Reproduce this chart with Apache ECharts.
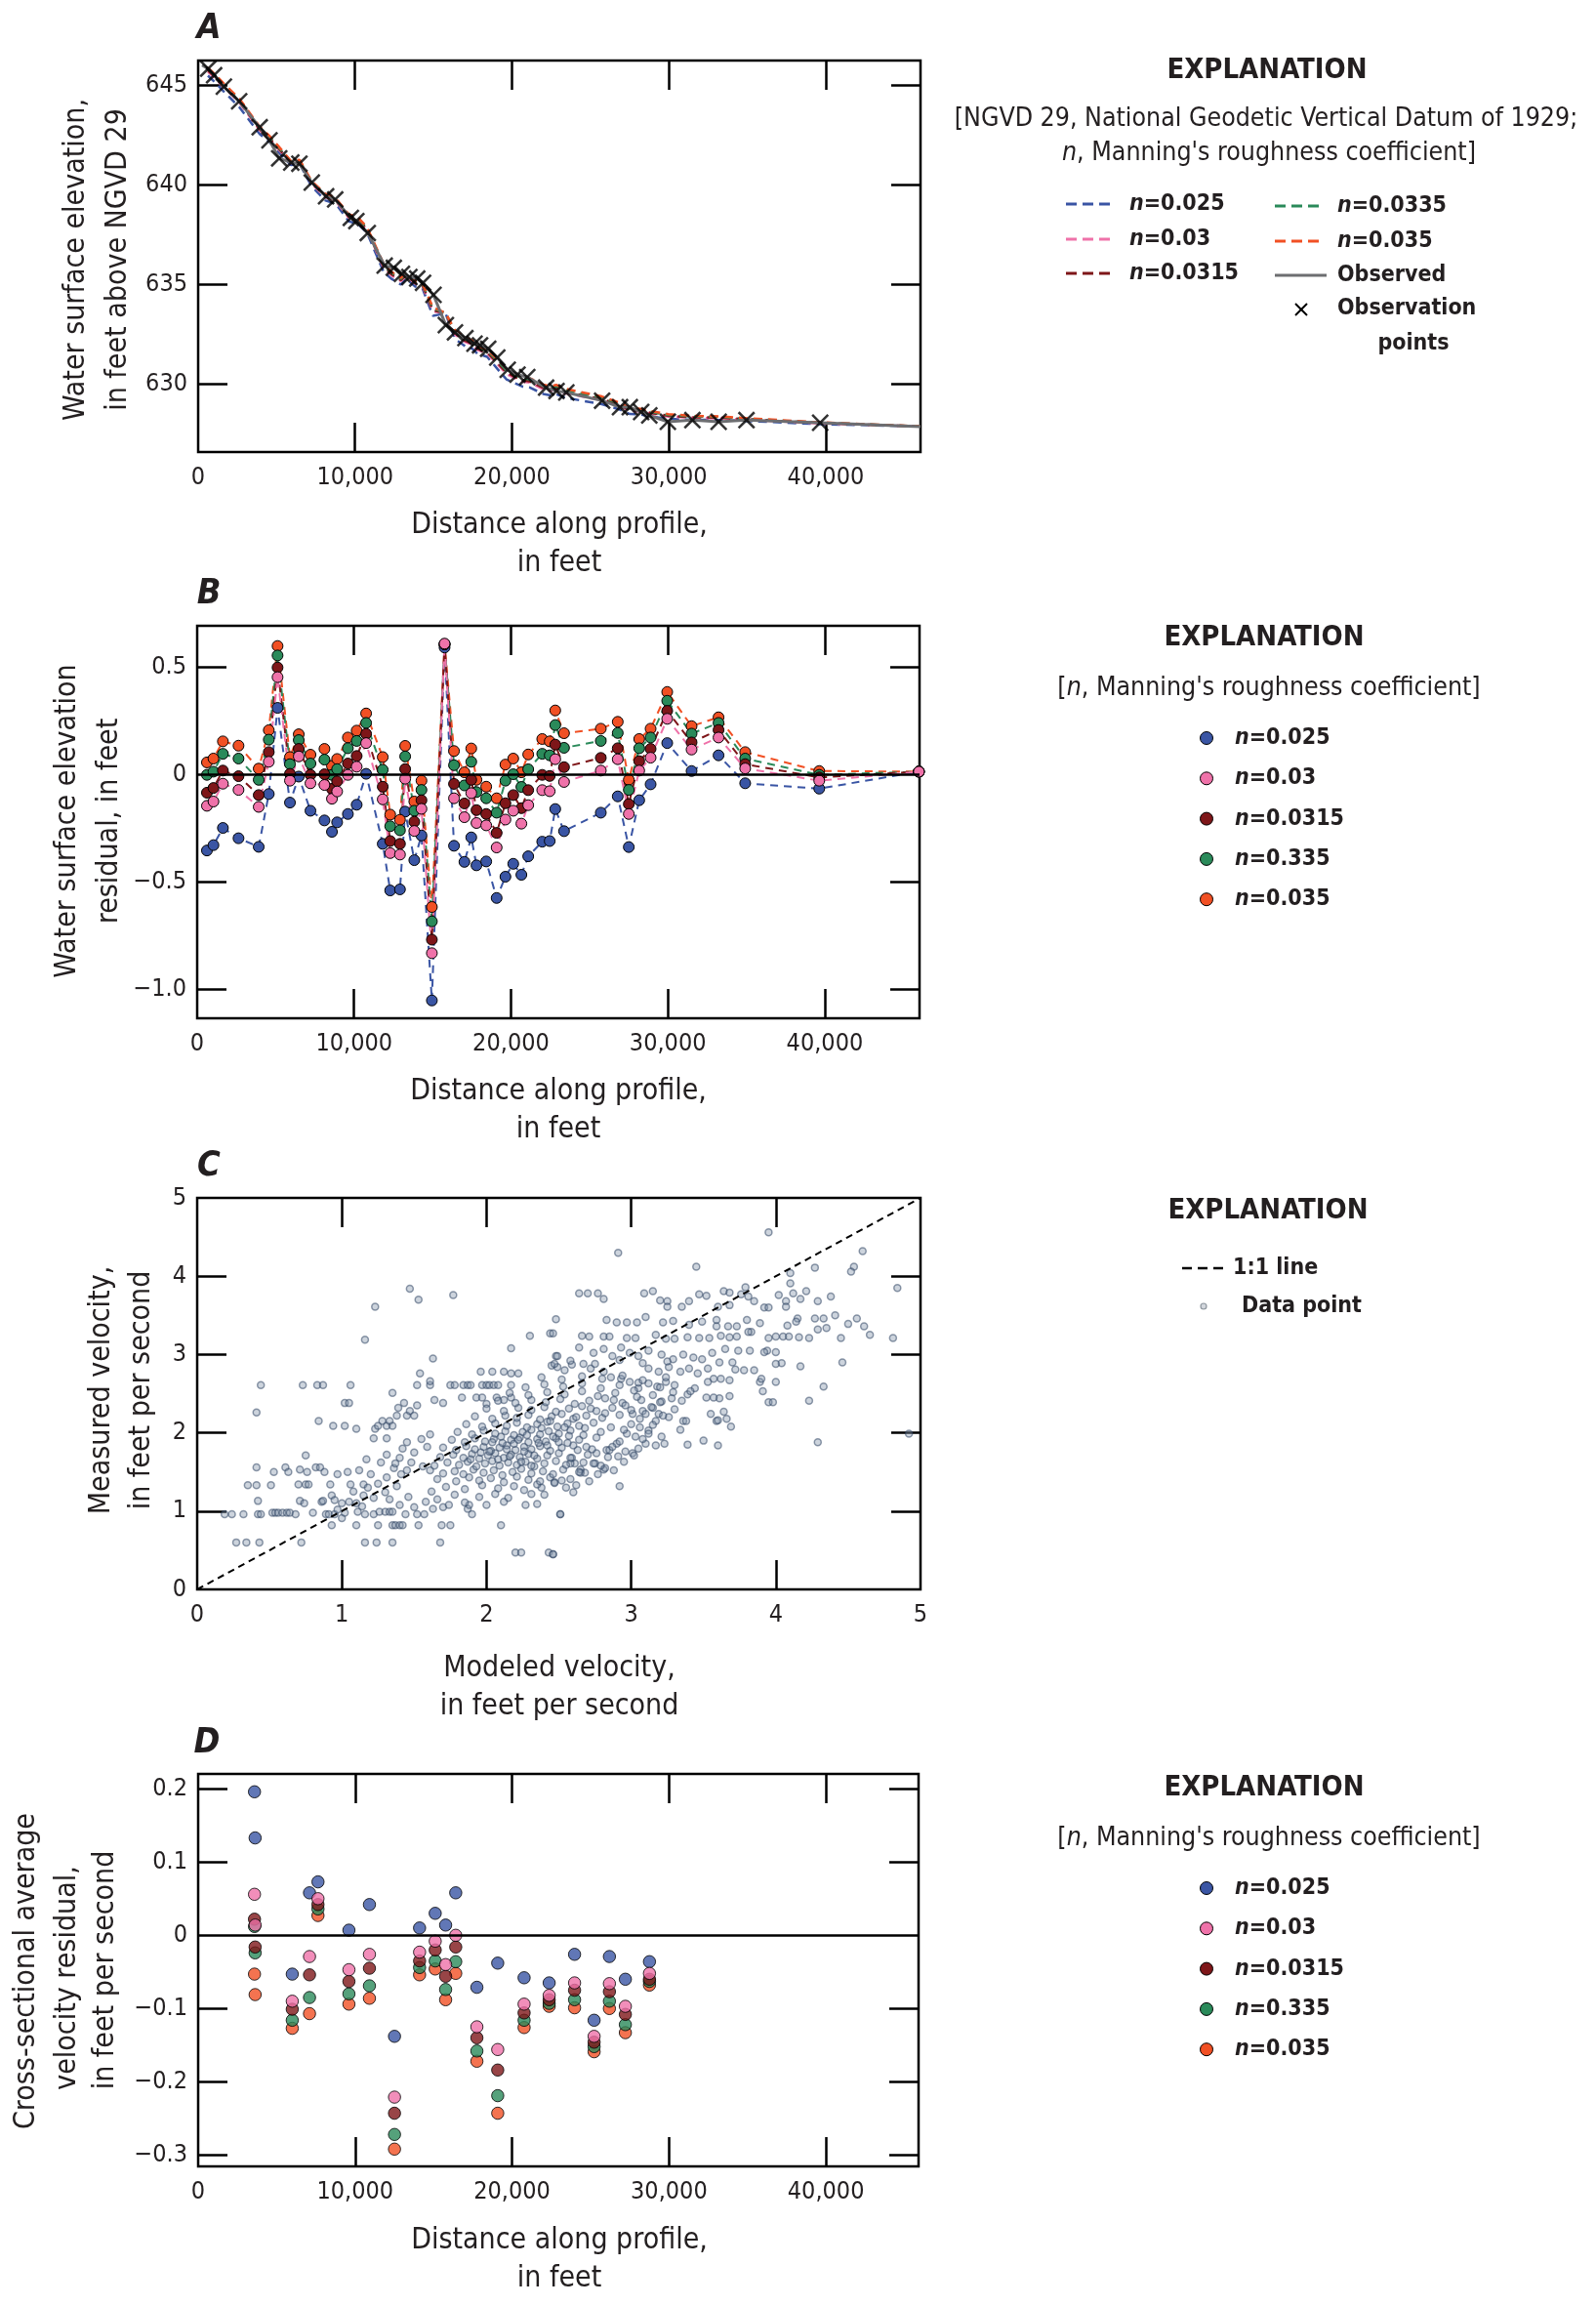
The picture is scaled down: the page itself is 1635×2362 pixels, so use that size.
<!DOCTYPE html>
<html>
<head>
<meta charset="utf-8">
<script src="https://cdn.jsdelivr.net/npm/echarts@6.0.0/dist/echarts.min.js"></script>
<style>
html, body { margin: 0; padding: 0; background: #fff; }
#chart { width: 1635px; height: 2362px; }
</style>
</head>
<body>
<div id="chart"></div>
<script>
// ---- panel A : observed water surface profile
var obsDist = [643,1017,1639,2614,3921,4544,5166,5934,6452,7241,8154,8734,9730,10083,10809,11888,12469,12988,13465,13963,14336,15000,15788,16369,17033,17614,17967,18485,19066,19730,20353,20975,22178,22842,23465,25747,26888,27510,28237,28755,29937,31503,33173,34948,39645];
var obsElev = [645.82,645.49,644.92,644.18,642.88,642.22,641.32,641.11,641.05,640.10,639.41,639.25,638.33,638.17,637.57,635.93,635.82,635.52,635.36,635.28,635.07,634.46,632.94,632.58,632.29,632.01,631.93,631.76,631.31,630.70,630.46,630.33,629.80,629.64,629.56,629.15,628.82,628.82,628.58,628.41,628.09,628.17,628.09,628.17,628.04];
// observed line (obs points plus the two ends of the profile)
var observedDist = [250,643,1017,1639,2614,3921,4544,5166,5934,6452,7241,8154,8734,9730,10083,10809,11888,12469,12988,13465,13963,14336,15000,15788,16369,17033,17614,17967,18485,19066,19730,20353,20975,22178,22842,23465,25747,26888,27510,28237,28755,29937,31503,33173,34948,39645,46040];
var observedElev = [646.00,645.82,645.49,644.92,644.18,642.88,642.22,641.32,641.11,641.05,640.10,639.41,639.25,638.33,638.17,637.57,635.93,635.82,635.52,635.36,635.28,635.07,634.46,632.94,632.58,632.29,632.01,631.93,631.76,631.31,630.70,630.46,630.33,629.80,629.64,629.56,629.15,628.82,628.82,628.58,628.41,628.09,628.17,628.09,628.17,628.04,627.85];

// modeled profiles, at the residual stations
var resDist = [622,1037,1639,2635,3921,4564,5124,5913,6473,7220,8112,8589,8921,9606,10166,10768,11826,12303,12925,13257,13838,14295,14959,15768,16369,17033,17469,17801,18423,19087,19647,20145,20664,21100,21992,22469,22822,23382,25726,26805,27510,28174,28900,29959,31511,33230,34928,39648,46000];
var elev025 = [645.47,645.16,644.67,643.88,642.54,642.13,641.63,640.98,641.04,639.93,639.20,639.08,638.88,638.15,638.03,637.57,635.61,635.28,634.98,635.28,634.88,634.79,633.41,633.53,632.25,631.88,631.76,631.51,631.35,630.73,630.22,630.04,629.86,629.82,629.49,629.41,629.48,629.30,628.97,628.72,628.48,628.46,628.36,628.24,628.19,628.18,628.13,627.97,627.86];
var elev030 = [645.67,645.36,644.88,644.11,642.73,642.28,641.77,641.08,641.13,640.06,639.36,639.24,639.02,638.33,638.21,637.72,635.81,635.45,635.15,635.43,635.02,634.91,633.63,633.55,632.47,632.09,631.96,631.70,631.52,630.97,630.49,630.29,630.10,630.06,629.73,629.64,629.71,629.52,629.17,628.89,628.64,628.60,628.49,628.35,628.29,628.26,628.20,628.01,627.86];
var elev0315 = [645.73,645.43,644.94,644.17,642.78,642.32,641.82,641.11,641.17,640.10,639.41,639.28,639.07,638.38,638.26,637.76,635.87,635.51,635.20,635.47,635.06,634.95,633.69,633.55,632.54,632.15,632.02,631.76,631.58,631.04,630.57,630.36,630.17,630.13,629.80,629.71,629.78,629.59,629.23,628.94,628.68,628.64,628.53,628.39,628.32,628.30,628.22,628.03,627.86];
var elev0335 = [645.82,645.50,645.02,644.25,642.85,642.38,641.87,641.16,641.21,640.15,639.48,639.35,639.12,638.45,638.33,637.81,635.95,635.58,635.26,635.53,635.11,635.00,633.78,633.55,632.62,632.24,632.11,631.85,631.65,631.13,630.67,630.46,630.27,630.22,629.90,629.81,629.87,629.68,629.31,629.01,628.75,628.70,628.58,628.43,628.36,628.33,628.24,628.04,627.86];
var elev035 = [645.88,645.56,645.07,644.31,642.91,642.43,641.92,641.19,641.24,640.19,639.53,639.39,639.17,638.50,638.37,637.85,636.01,635.63,635.31,635.58,635.15,635.04,633.84,633.55,632.69,632.30,632.17,631.90,631.70,631.20,630.75,630.53,630.34,630.29,629.96,629.87,629.94,629.75,629.36,629.06,628.79,628.74,628.62,628.47,628.39,628.36,628.27,628.06,627.86];

// ---- panel B : water surface residuals
var res025 = [-0.355,-0.330,-0.250,-0.298,-0.338,-0.092,0.309,-0.132,-0.011,-0.170,-0.215,-0.268,-0.224,-0.185,-0.142,0.002,-0.324,-0.541,-0.536,-0.174,-0.400,-0.285,-1.053,0.590,-0.333,-0.408,-0.294,-0.424,-0.406,-0.576,-0.477,-0.417,-0.468,-0.382,-0.314,-0.311,-0.162,-0.265,-0.179,-0.103,-0.339,-0.121,-0.047,0.145,0.015,0.088,-0.042,-0.067,0.012];
var res030 = [-0.147,-0.127,-0.044,-0.073,-0.152,0.058,0.452,-0.030,0.083,-0.042,-0.050,-0.114,-0.080,-0.003,0.035,0.145,-0.117,-0.367,-0.374,-0.021,-0.264,-0.161,-0.833,0.608,-0.112,-0.200,-0.088,-0.227,-0.238,-0.341,-0.211,-0.170,-0.230,-0.144,-0.074,-0.079,0.070,-0.036,0.017,0.070,-0.185,0.017,0.077,0.258,0.115,0.171,0.027,-0.030,0.012];
var res0315 = [-0.086,-0.064,0.017,-0.009,-0.097,0.103,0.497,0.002,0.118,-0.003,0.000,-0.068,-0.033,0.050,0.085,0.188,-0.058,-0.311,-0.324,0.024,-0.221,-0.121,-0.770,0.605,-0.045,-0.136,-0.026,-0.167,-0.185,-0.273,-0.135,-0.097,-0.158,-0.074,-0.003,-0.008,0.138,0.033,0.076,0.121,-0.139,0.061,0.118,0.295,0.148,0.206,0.047,-0.015,0.012];
var res0335 = [-0.003,0.012,0.095,0.073,-0.026,0.161,0.553,0.047,0.159,0.050,0.068,-0.003,0.024,0.121,0.155,0.239,0.021,-0.242,-0.261,0.083,-0.170,-0.073,-0.685,0.605,0.042,-0.052,0.058,-0.083,-0.112,-0.179,-0.030,0.000,-0.059,0.023,0.095,0.088,0.229,0.123,0.155,0.192,-0.073,0.121,0.171,0.342,0.189,0.239,0.073,-0.003,0.012];
var res035 = [0.055,0.073,0.153,0.133,0.026,0.205,0.597,0.080,0.186,0.091,0.118,0.039,0.071,0.171,0.203,0.283,0.080,-0.188,-0.212,0.132,-0.127,-0.030,-0.618,0.605,0.108,0.009,0.120,-0.026,-0.058,-0.112,0.045,0.073,0.009,0.092,0.164,0.153,0.297,0.191,0.212,0.244,-0.026,0.164,0.212,0.383,0.224,0.265,0.103,0.015,0.012];

// ---- panel C : modeled vs measured velocity [modeled, measured]
var velocityPoints = [
[1.47,3.84],[1.53,3.70],[1.77,3.76],[1.23,3.61],[1.16,3.19],[1.63,2.95],[2.17,3.08],[2.30,3.24],[2.44,3.27],[2.46,3.27],[2.48,3.45],[2.48,2.98],[2.45,2.86],[2.49,2.84],
[0.44,2.61],[0.73,2.61],[0.83,2.61],[0.87,2.61],[1.06,2.61],[1.52,2.61],[1.61,2.61],[1.75,2.61],[1.78,2.61],[1.84,2.61],[1.87,2.61],[1.89,2.61],[1.97,2.61],[2.00,2.61],[2.02,2.61],[2.05,2.61],[2.08,2.61],[2.17,2.61],
[1.54,2.76],[1.61,2.66],[1.96,2.78],[2.04,2.78],[2.12,2.78],[2.17,2.76],[2.22,2.76],
[1.35,2.51],[0.41,2.26],[1.02,2.38],[1.05,2.38],[1.43,2.38],[1.64,2.42],[1.70,2.38],[1.83,2.45],[1.93,2.45],[1.97,2.45],[2.00,2.37],[2.07,2.45],[2.12,2.42],[2.17,2.45],
[0.84,2.15],[0.94,2.09],[1.02,2.09],[1.10,2.05],[1.23,2.05],[1.25,2.09],[1.28,2.15],[1.31,2.09],[1.33,2.15],[1.35,2.09],[1.22,1.93],[1.31,1.93],[1.38,2.22],[1.39,2.32],[1.45,2.22],[1.47,2.28],[1.50,2.22],[1.52,2.35],
[0.75,1.71],[0.41,1.56],[0.53,1.50],[0.61,1.56],[0.63,1.50],[0.71,1.53],[0.76,1.50],[0.82,1.56],[0.85,1.56],[0.88,1.50],
[0.35,1.33],[0.41,1.33],[0.51,1.33],[0.70,1.34],[0.75,1.34],[0.77,1.34],[0.92,1.34],[1.06,1.34],[1.15,1.34],
[0.42,1.13],[0.71,1.13],[0.74,1.10],[0.86,1.12],[0.87,1.13],[0.93,1.20],[0.95,1.14],[1.00,1.10],[1.05,1.12],[1.10,1.10],[1.14,1.06],
[0.19,0.96],[0.24,0.96],[0.32,0.96],[0.42,0.96],[0.44,0.96],[0.52,0.98],[0.54,0.98],[0.56,0.98],[0.59,0.98],[0.62,0.98],[0.64,0.98],[0.68,0.96],[0.80,0.98],[0.89,0.96],[0.91,0.96],[0.95,0.96],[1.00,0.91],[1.11,0.99],[1.16,0.96],[1.22,0.96],[1.26,0.99],[1.30,0.99],[1.33,0.99],[1.35,0.99],
[0.93,0.82],[1.10,0.82],[1.25,0.82],[1.35,0.82],[1.37,0.82],[1.40,0.82],[1.42,0.82],[1.53,0.82],[1.69,0.82],[1.75,0.82],
[0.27,0.60],[0.34,0.60],[0.43,0.60],[0.72,0.60],[1.16,0.60],[1.24,0.60],[1.35,0.60],[1.68,0.60],
[2.10,0.82],[2.27,1.08],[2.20,0.47],[2.24,0.47],[2.43,0.47],[2.46,0.45],[2.51,0.96],[2.31,1.22],[2.38,1.30],[2.47,1.37],[1.90,0.96],[1.87,1.03],[1.88,1.08],[1.52,0.96],[1.57,0.96],[1.63,1.03],[1.70,1.05],[1.74,1.08],
[1.25,1.35],[1.31,1.43],[1.41,1.47],[1.45,1.52],[1.36,1.55],[1.20,1.47],[1.12,1.52],[1.04,1.50],[0.97,1.47],[1.27,1.62],[1.17,1.66],[1.31,1.72],[1.40,1.68],[1.50,1.75],[1.48,1.62],[1.56,1.57],[1.59,1.82],[1.55,1.92],[1.61,1.98],[1.45,1.88],[1.42,1.80],[1.37,1.61],[1.08,1.25],[1.15,1.20],[1.22,1.17],[1.30,1.24],[1.38,1.32],[1.33,1.15],[1.40,1.08],[1.46,1.18],[1.50,1.05],[1.18,1.30],[0.97,1.02],[1.02,0.98],[1.44,0.96],[1.58,1.12],[1.66,1.15],[1.62,1.25],
[3.95,4.56],[2.91,4.30],[3.45,4.12],[4.60,4.32],[4.54,4.12],[4.52,4.06],[4.27,4.11],[4.10,4.04],[4.84,3.85],[4.10,3.91],[4.12,3.78],[4.17,3.71],[4.21,3.81],[4.38,3.74],[4.29,3.68],[4.02,3.76],[4.07,3.68],[4.07,3.61],
[2.64,3.78],[2.70,3.78],[2.77,3.78],[2.81,3.71],[3.09,3.78],[3.15,3.81],[3.20,3.69],[3.25,3.68],[3.25,3.61],[3.35,3.61],[3.40,3.68],[3.47,3.77],[3.52,3.75],[3.64,3.81],[3.68,3.79],[3.76,3.77],[3.79,3.86],[3.81,3.74],[3.85,3.68],[3.68,3.63],[3.60,3.61],[3.59,3.44],[3.92,3.60],[3.95,3.60],
[4.41,3.50],[4.50,3.39],[4.56,3.46],[4.61,3.36],[4.65,3.25],[4.27,3.46],[4.33,3.46],[4.29,3.32],[4.35,3.34],[4.15,3.46],[4.14,3.42],[4.08,3.37],[4.23,3.21],[4.45,3.21],[4.81,3.21],[4.46,2.90],[4.17,2.85],[4.33,2.59],[4.23,2.41],[3.95,2.39],[3.98,2.39],[4.00,2.65],[4.00,3.03],[4.04,2.89],[4.00,2.88],[3.91,2.53],[3.89,2.65],[3.94,3.05],[3.92,3.03],[3.95,3.21],[4.00,3.23],[4.05,3.23],[4.09,3.23],[4.16,3.22],
[4.92,1.99],[4.29,1.88],[2.92,1.32],[2.51,0.96],[2.46,0.45],
[3.39,1.85],[3.50,1.90],[3.60,1.84],[3.69,2.08],[3.66,2.18],[3.59,2.15],[3.60,2.16],[3.55,2.24],[3.64,2.27],[3.34,2.04],[3.36,2.15],[3.38,2.15],[3.68,2.47],[3.61,2.44],[3.57,2.45],
[2.81,1.53],[2.75,1.61],[2.68,1.49],[2.65,1.53],[2.61,1.61],[2.59,1.68],
[2.83,3.44],[2.90,3.41],[2.97,3.41],[3.04,3.41],[3.10,3.48],[3.22,3.41],[3.29,3.43],[3.40,3.38],[3.49,3.42],[3.59,3.36],[3.67,3.36],[3.73,3.36],[3.80,3.44],[3.83,3.29],[3.89,3.40],
[2.66,3.24],[2.71,3.23],[2.81,3.23],[2.85,3.23],[2.97,3.21],[3.03,3.21],[3.17,3.25],[3.24,3.20],[3.30,3.20],[3.39,3.22],[3.47,3.21],[3.54,3.21],[3.62,3.24],[3.68,3.22],[3.73,3.23],[3.81,3.29],
[2.64,3.09],[2.74,3.02],[2.81,3.07],[2.87,2.98],[2.93,3.09],[2.99,3.02],[3.05,2.98],[3.12,3.05],[3.21,3.00],[3.29,2.94],[3.36,3.00],[3.43,2.96],[3.49,2.94],[3.56,3.02],[3.61,2.90],[3.65,3.07],[3.70,2.90],[3.74,3.05],[3.82,3.05],[3.72,2.81],[3.78,2.80],[3.85,2.80],[3.90,2.69],
[3.12,2.82],[3.19,2.78],[3.26,2.84],[3.34,2.78],[3.40,2.82],[3.46,2.76],[3.53,2.82],[3.57,2.69],[3.62,2.69],[3.68,2.67],[3.53,2.65],[3.44,2.57],[3.39,2.49],[3.52,2.45],[3.41,2.53],[3.30,2.61],[3.24,2.65],[3.18,2.59],[3.12,2.63],[3.05,2.57],[2.99,2.65],[2.93,2.69],[2.86,2.71],[2.81,2.78],[2.72,2.82],[2.67,2.88],[2.59,2.87],[2.54,2.80],[2.49,2.98],[2.47,2.88],
[3.28,2.44],[3.21,2.40],[3.15,2.32],[3.08,2.28],[3.01,2.24],[3.10,2.24],[3.19,2.24],[3.26,2.20],[3.17,2.15],[3.06,2.07],[3.12,2.03],[3.21,1.95],[3.23,1.86],[3.17,1.84],[3.10,1.86],[3.03,1.95],[2.97,1.99],[2.90,1.86],[2.83,1.78],[2.76,1.74],[2.69,1.82],[2.63,1.78],[2.58,1.61],[2.52,1.39],[2.47,1.36],[2.65,1.49],[2.74,1.61],[2.82,1.55],[2.85,1.78],[2.96,1.76],[3.01,1.74],[2.91,1.70],
[1.72,1.31],[1.85,1.28],[1.97,1.33],[2.08,1.29],[2.19,1.32],[2.26,1.27],[2.35,1.34],[2.55,1.30],[2.62,1.33],
[1.66,1.41],[1.79,1.38],[1.88,1.43],[1.95,1.39],[2.03,1.42],[2.12,1.37],[2.21,1.44],[2.29,1.40],[2.37,1.38],[2.44,1.43],[2.58,1.41],[2.71,1.38],
[1.61,1.52],[1.70,1.48],[1.78,1.51],[1.84,1.47],[1.91,1.53],[1.98,1.49],[2.05,1.52],[2.11,1.46],[2.18,1.50],[2.24,1.54],[2.31,1.48],[2.39,1.51],[2.46,1.47],[2.53,1.53],[2.64,1.50],[2.77,1.47],[2.88,1.52],
[1.64,1.58],[1.73,1.62],[1.81,1.59],[1.87,1.63],[1.93,1.57],[1.99,1.61],[2.04,1.64],[2.09,1.58],[2.15,1.62],[2.21,1.59],[2.27,1.63],[2.33,1.57],[2.40,1.61],[2.48,1.64],[2.55,1.59],[2.67,1.62],[2.79,1.58],[2.95,1.63],
[1.68,1.69],[1.77,1.72],[1.84,1.68],[1.90,1.73],[1.95,1.67],[2.01,1.71],[2.06,1.74],[2.12,1.68],[2.17,1.72],[2.23,1.69],[2.29,1.73],[2.35,1.67],[2.42,1.71],[2.50,1.74],[2.58,1.68],[2.70,1.72],[2.84,1.69],[3.02,1.71],
[1.70,1.81],[1.79,1.78],[1.86,1.83],[1.92,1.79],[1.98,1.82],[2.03,1.77],[2.09,1.81],[2.14,1.84],[2.20,1.78],[2.26,1.82],[2.31,1.79],[2.37,1.83],[2.44,1.77],[2.52,1.81],[2.60,1.84],[2.73,1.79],[2.87,1.82],[3.05,1.80],
[1.76,1.91],[1.85,1.88],[1.92,1.93],[1.99,1.89],[2.05,1.92],[2.11,1.87],[2.17,1.91],[2.23,1.94],[2.29,1.88],[2.35,1.92],[2.41,1.89],[2.48,1.93],[2.56,1.87],[2.64,1.91],[2.76,1.94],[2.92,1.89],[3.08,1.92],
[1.80,2.01],[1.90,1.98],[1.98,2.03],[2.06,1.99],[2.13,2.02],[2.19,1.97],[2.25,2.01],[2.31,2.04],[2.37,1.98],[2.43,2.02],[2.50,1.99],[2.58,2.03],[2.67,1.97],[2.79,2.01],[2.95,2.04],[3.12,1.99],
[1.86,2.11],[1.97,2.08],[2.06,2.12],[2.14,2.09],[2.21,2.13],[2.28,2.07],[2.35,2.11],[2.42,2.14],[2.49,2.08],[2.56,2.12],[2.64,2.09],[2.74,2.13],[2.86,2.07],[3.00,2.11],[3.15,2.10],
[1.92,2.21],[2.04,2.18],[2.13,2.22],[2.21,2.19],[2.29,2.23],[2.37,2.17],[2.45,2.21],[2.52,2.24],[2.60,2.18],[2.69,2.22],[2.80,2.19],[2.92,2.23],[3.06,2.18],[3.22,2.22],
[2.00,2.31],[2.12,2.28],[2.22,2.32],[2.31,2.29],[2.40,2.33],[2.48,2.27],[2.57,2.31],[2.66,2.34],[2.76,2.28],[2.87,2.32],[3.00,2.29],[3.14,2.33],[3.30,2.30],
[2.08,2.41],[2.20,2.38],[2.31,2.42],[2.41,2.39],[2.51,2.43],[2.61,2.37],[2.71,2.41],[2.82,2.44],[2.94,2.38],[3.07,2.42],[3.20,2.39],[3.35,2.41],
[2.16,2.51],[2.29,2.48],[2.42,2.52],[2.54,2.49],[2.66,2.53],[2.77,2.47],[2.89,2.51],[3.02,2.54],[3.15,2.48],[3.29,2.52],
[2.27,2.58],[2.40,2.62],[2.53,2.59],[2.66,2.63],[2.79,2.57],[2.92,2.61],[3.05,2.64],[3.20,2.58],
[2.38,2.71],[2.52,2.68],[2.66,2.72],[2.80,2.69],[2.94,2.73],[3.08,2.67],[3.24,2.71],
[2.58,2.92],[2.75,2.88],[2.92,2.93],[3.08,2.89],[3.25,2.91],
[1.78,1.21],[1.95,1.18],[2.06,1.22],[2.15,1.17],[2.40,1.21],[2.60,1.24],
[1.85,1.11],[2.00,1.08],[2.12,1.12],[2.35,1.09],
[2.02,1.76],[2.08,1.66],[2.14,1.79],[2.19,1.86],[2.24,1.63],[2.28,1.97],[2.33,1.71],[2.38,2.06],[2.42,1.84],[2.46,1.95],[2.50,1.88],[2.54,2.07],[2.22,1.91],[2.16,1.70],[2.10,1.95],[2.04,1.88],[1.96,1.75],[1.89,1.66],[2.26,1.76],[2.31,1.58],[2.36,1.87],[2.44,2.15],[2.57,1.96],[2.62,2.20],[2.68,2.06],[2.72,2.31],[2.82,2.25],[2.88,2.42],[2.96,2.35],[3.04,2.46]
];
var oneToOne = [[0, 0], [5, 5]];

// ---- panel D : cross-section average velocity residuals
var velDist = [3590,3630,5996,7095,7635,9606,10913,12510,14108,15104,15768,16411,17759,19087,20768,22365,23983,25228,26203,27220,28755];
var vres025 = [0.196,0.133,-0.053,0.058,0.073,0.007,0.042,-0.138,0.010,0.030,0.014,0.058,-0.071,-0.038,-0.058,-0.065,-0.026,-0.116,-0.029,-0.060,-0.036];
var vres030 = [0.056,0.014,-0.090,-0.029,0.050,-0.047,-0.026,-0.221,-0.023,-0.008,-0.040,0.000,-0.125,-0.156,-0.094,-0.082,-0.065,-0.138,-0.066,-0.097,-0.052];
var vres0315 = [0.022,-0.016,-0.101,-0.054,0.042,-0.063,-0.045,-0.243,-0.035,-0.020,-0.056,-0.016,-0.140,-0.184,-0.106,-0.088,-0.075,-0.146,-0.077,-0.108,-0.060];
var vres0335 = [0.012,-0.024,-0.116,-0.085,0.036,-0.080,-0.069,-0.272,-0.044,-0.035,-0.074,-0.036,-0.158,-0.219,-0.116,-0.093,-0.088,-0.152,-0.090,-0.122,-0.063];
var vres035 = [-0.053,-0.081,-0.127,-0.107,0.027,-0.094,-0.086,-0.292,-0.054,-0.046,-0.088,-0.052,-0.172,-0.243,-0.126,-0.097,-0.099,-0.159,-0.100,-0.133,-0.068];

// ---- ticks and labels
var distTicks = [10000, 20000, 30000, 40000];
var distLabels = [0, 10000, 20000, 30000, 40000];
var elevTicks = [630, 635, 640, 645];
var wsResTicks = [-1, -0.5, 0.5];
var wsResLabels = [-1, -0.5, 0, 0.5];
var velTicks = [1, 2, 3, 4];
var velLabels = [0, 1, 2, 3, 4, 5];
var vResTicks = [-0.3, -0.2, -0.1, 0.1, 0.2];
var vResLabels = [-0.3, -0.2, -0.1, 0, 0.1, 0.2];

var FONT = '"Liberation Sans Narrow", "DejaVu Sans Condensed", "Liberation Sans", sans-serif';
var INK = '#231f20';
var C025 = '#3a55a4', C030 = '#ef72a9', C0315 = '#7e1619', C0335 = '#2a8a5a', C035 = '#f15024';

function zip(xs, ys) {
	var out = [];
	for (var i = 0; i < xs.length; i++) out.push([xs[i], ys[i]]);
	return out;
}
function fmtDist(v) { return v.toLocaleString('en-US'); }
function fmtSigned(d) {
	return function (v) {
		if (Math.abs(v) < 1e-9) return '0';
		return (v < 0 ? '\u2212' : '') + Math.abs(v).toFixed(d);
	};
}
function fmtPlain(v) { return String(Math.round(v)); }

// one axis of a boxed panel; labels only on the left / bottom ones
function axis(grid, pos, min, max, ticks, labels, fmt) {
	var horiz = (pos === 'top' || pos === 'bottom');
	return {
		type: 'value', gridIndex: grid, position: pos, min: min, max: max,
		axisLine: { show: false, onZero: false },
		splitLine: { show: false },
		axisTick: { show: true, inside: true, length: 30, customValues: ticks, lineStyle: { color: '#000', width: 2.5 } },
		axisLabel: labels ? {
			show: true, customValues: labels, formatter: fmt,
			fontFamily: FONT, fontSize: 25, color: INK, margin: horiz ? 14 : 11
		} : { show: false }
	};
}

function txt(x, y, s, o) {
	o = o || {};
	var size = o.size || 30;
	var weight = o.weight || 'normal';
	return {
		type: 'text', x: x, y: y, rotation: o.rot || 0, silent: true, z: 100,
		style: {
			text: s, fill: INK, fontFamily: FONT, fontSize: size, fontWeight: weight,
			fontStyle: o.italic ? 'italic' : 'normal',
			align: o.align || 'center', verticalAlign: 'middle',
			textAlign: o.align || 'center', textVerticalAlign: 'middle',
			rich: { it: { fontStyle: 'italic', fontFamily: FONT, fontSize: size, fontWeight: weight, fill: INK } }
		}
	};
}
function seg(x1, y1, x2, y2, color, width, dash) {
	return { type: 'line', silent: true, z: 100, shape: { x1: x1, y1: y1, x2: x2, y2: y2 },
		style: { stroke: color, lineWidth: width, lineDash: dash || null } };
}
function dot(cx, cy, color) {
	return { type: 'circle', silent: true, z: 100, shape: { cx: cx, cy: cy, r: 6.5 },
		style: { fill: color, stroke: '#000', lineWidth: 1 } };
}

var XMARK = 'path://M0,1L1,0L5,4L9,0L10,1L6,5L10,9L9,10L5,6L1,10L0,9L4,5Z';

function profileLine(elev, color) {
	return { type: 'line', xAxisIndex: 0, yAxisIndex: 0, data: zip(resDist, elev), symbol: 'none', silent: true,
		lineStyle: { color: color, width: 2.5, type: [9, 6] }, z: 2 };
}
function residualLine(res, color) {
	return { type: 'line', xAxisIndex: 2, yAxisIndex: 2, data: zip(resDist, res), symbol: 'circle', symbolSize: 11,
		silent: true, itemStyle: { color: color, borderColor: '#000', borderWidth: 1 },
		lineStyle: { color: color, width: 2, type: [8, 6] }, z: 3 };
}
function velResidual(res, color) {
	return { type: 'scatter', xAxisIndex: 6, yAxisIndex: 6, data: zip(velDist, res), symbol: 'circle', symbolSize: 12.5,
		silent: true, itemStyle: { color: color, borderColor: '#000', borderWidth: 1 }, z: 3 };
}

var legendLines = [
	['{it|n}=0.025', C025], ['{it|n}=0.03', C030], ['{it|n}=0.0315', C0315], ['{it|n}=0.335', C0335], ['{it|n}=0.035', C035]
];
var graphics = [];
// panel letters
graphics.push(txt(214, 30, 'A', { size: 36, weight: 'bold', italic: true }));
graphics.push(txt(214, 609, 'B', { size: 36, weight: 'bold', italic: true }));
graphics.push(txt(214, 1195, 'C', { size: 36, weight: 'bold', italic: true }));
graphics.push(txt(212, 1786, 'D', { size: 36, weight: 'bold', italic: true }));
// axis titles
graphics.push(txt(573, 538, 'Distance along profile,'), txt(573, 577, 'in feet'));
graphics.push(txt(78, 266, 'Water surface elevation,', { rot: Math.PI / 2 }), txt(121, 266, 'in feet above NGVD 29', { rot: Math.PI / 2 }));
graphics.push(txt(572, 1118, 'Distance along profile,'), txt(572, 1157, 'in feet'));
graphics.push(txt(69, 841, 'Water surface elevation', { rot: Math.PI / 2 }), txt(112, 841, 'residual, in feet', { rot: Math.PI / 2 }));
graphics.push(txt(573, 1709, 'Modeled velocity,'), txt(573, 1748, 'in feet per second'));
graphics.push(txt(104, 1424, 'Measured velocity,', { rot: Math.PI / 2 }), txt(145, 1424, 'in feet per second', { rot: Math.PI / 2 }));
graphics.push(txt(573, 2295, 'Distance along profile,'), txt(573, 2334, 'in feet'));
graphics.push(txt(27, 2019, 'Cross-sectional average', { rot: Math.PI / 2 }), txt(69, 2026, 'velocity residual,', { rot: Math.PI / 2 }), txt(108, 2018, 'in feet per second', { rot: Math.PI / 2 }));

// explanation A
graphics.push(txt(1298, 72, 'EXPLANATION', { size: 29, weight: 'bold' }));
graphics.push(txt(1297, 122, '[NGVD 29, National Geodetic Vertical Datum of 1929;', { size: 26.5 }));
graphics.push(txt(1300, 157, '{it|n}, Manning\'s roughness coefficient]', { size: 26.5 }));
var legA = [[1092, 1157, 209, 0], [1092, 1157, 245, 1], [1092, 1157, 280, 2], [1306, 1370, 211, 3], [1306, 1370, 247, 4]];
legA.forEach(function (r) {
	var l = legendLines[r[3]];
	var txtLabel = r[3] === 3 ? '{it|n}=0.0335' : l[0];
	graphics.push(seg(r[0], r[2], r[0] + 50, r[2], l[1], 3, [11, 6]));
	graphics.push(txt(r[1], r[2], txtLabel, { size: 23, weight: 'bold', align: 'left' }));
});
graphics.push(seg(1306, 282, 1359, 282, '#6d6e71', 3));
graphics.push(txt(1370, 282, 'Observed', { size: 23, weight: 'bold', align: 'left' }));
graphics.push(seg(1327, 311, 1339, 323, '#000', 2), seg(1339, 311, 1327, 323, '#000', 2));
graphics.push(txt(1370, 316, 'Observation', { size: 23, weight: 'bold', align: 'left' }));
graphics.push(txt(1448, 352, 'points', { size: 23, weight: 'bold' }));

// explanation B and D
[[653, 705, 756], [1831, 1883, 1934]].forEach(function (p) {
	graphics.push(txt(1295, p[0], 'EXPLANATION', { size: 29, weight: 'bold' }));
	graphics.push(txt(1300, p[1], '[{it|n}, Manning\'s roughness coefficient]', { size: 26.5 }));
	legendLines.forEach(function (l, i) {
		var y = p[2] + i * 41.3;
		graphics.push(dot(1236, y, l[1]));
		graphics.push(txt(1265, y, l[0], { size: 23, weight: 'bold', align: 'left' }));
	});
});

// explanation C
graphics.push(txt(1299, 1240, 'EXPLANATION', { size: 29, weight: 'bold' }));
graphics.push(seg(1211, 1299, 1253, 1299, '#000', 2.5, [10, 6]));
graphics.push(txt(1263, 1299, '1:1 line', { size: 23, weight: 'bold', align: 'left' }));
graphics.push({ type: 'circle', silent: true, z: 100, shape: { cx: 1233, cy: 1338, r: 3 },
	style: { fill: 'rgba(200,205,212,0.8)', stroke: 'rgba(120,130,140,0.8)', lineWidth: 1.2 } });
graphics.push(txt(1272, 1338, 'Data point', { size: 23, weight: 'bold', align: 'left' }));

var zeroLine = {
	silent: true, symbol: 'none', label: { show: false }, animation: false,
	lineStyle: { color: '#000', width: 2.5, type: 'solid' }, data: [{ yAxis: 0 }]
};

var gridStyle = { show: true, borderColor: '#000', borderWidth: 2.5, backgroundColor: 'transparent', containLabel: false };

var option = {
	animation: false,
	backgroundColor: '#fff',
	grid: [
		Object.assign({ left: 203, top: 62, width: 740, height: 401 }, gridStyle),
		Object.assign({ left: 202, top: 641, width: 740, height: 402 }, gridStyle),
		Object.assign({ left: 202, top: 1227, width: 741, height: 401 }, gridStyle),
		Object.assign({ left: 203, top: 1817, width: 738, height: 402 }, gridStyle)
	],
	xAxis: [
		axis(0, 'bottom', 0, 46040, distTicks, distLabels, fmtDist),
		axis(0, 'top', 0, 46040, distTicks),
		axis(1, 'bottom', 0, 46040, distTicks, distLabels, fmtDist),
		axis(1, 'top', 0, 46040, distTicks),
		axis(2, 'bottom', 0, 5, velTicks, velLabels, fmtPlain),
		axis(2, 'top', 0, 5, velTicks),
		axis(3, 'bottom', 0, 45900, distTicks, distLabels, fmtDist),
		axis(3, 'top', 0, 45900, distTicks)
	],
	yAxis: [
		axis(0, 'left', 626.57, 646.23, elevTicks, elevTicks, fmtPlain),
		axis(0, 'right', 626.57, 646.23, elevTicks),
		axis(1, 'left', -1.136, 0.691, wsResTicks, wsResLabels, fmtSigned(1)),
		axis(1, 'right', -1.136, 0.691, wsResTicks),
		axis(2, 'left', 0, 5, velTicks, velLabels, fmtPlain),
		axis(2, 'right', 0, 5, velTicks),
		axis(3, 'left', -0.3156, 0.2204, vResTicks, vResLabels, fmtSigned(1)),
		axis(3, 'right', -0.3156, 0.2204, vResTicks)
	],
	graphic: { elements: graphics },
	series: [
		// A
		profileLine(elev025, C025),
		profileLine(elev030, C030),
		profileLine(elev0315, C0315),
		profileLine(elev0335, C0335),
		profileLine(elev035, C035),
		{ type: 'line', xAxisIndex: 0, yAxisIndex: 0, data: zip(observedDist, observedElev), symbol: 'none', silent: true,
			lineStyle: { color: '#6d6e71', width: 3 }, z: 4 },
		{ type: 'scatter', xAxisIndex: 0, yAxisIndex: 0, data: zip(obsDist, obsElev), symbol: XMARK, symbolSize: 18,
			silent: true, itemStyle: { color: '#000' }, z: 5 },
		// B
		Object.assign(residualLine(res025, C025), { markLine: zeroLine }),
		residualLine(res035, C035),
		residualLine(res0335, C0335),
		residualLine(res0315, C0315),
		residualLine(res030, C030),
		// C
		{ type: 'scatter', xAxisIndex: 4, yAxisIndex: 4, data: velocityPoints, symbol: 'circle', symbolSize: 7, silent: true,
			itemStyle: { color: 'rgba(130,148,170,0.5)', borderColor: 'rgba(45,66,95,0.65)', borderWidth: 1.5 }, z: 2 },
		{ type: 'line', xAxisIndex: 4, yAxisIndex: 4, data: oneToOne, symbol: 'none', silent: true,
			lineStyle: { color: '#000', width: 2, type: [7, 5] }, z: 3 },
		// D
		Object.assign(velResidual(vres025, C025), { markLine: zeroLine }),
		velResidual(vres035, C035),
		velResidual(vres0335, C0335),
		velResidual(vres0315, C0315),
		velResidual(vres030, C030)
	]
};

var myChart = echarts.init(document.getElementById('chart'));
myChart.setOption(option);
</script>
</body>
</html>
